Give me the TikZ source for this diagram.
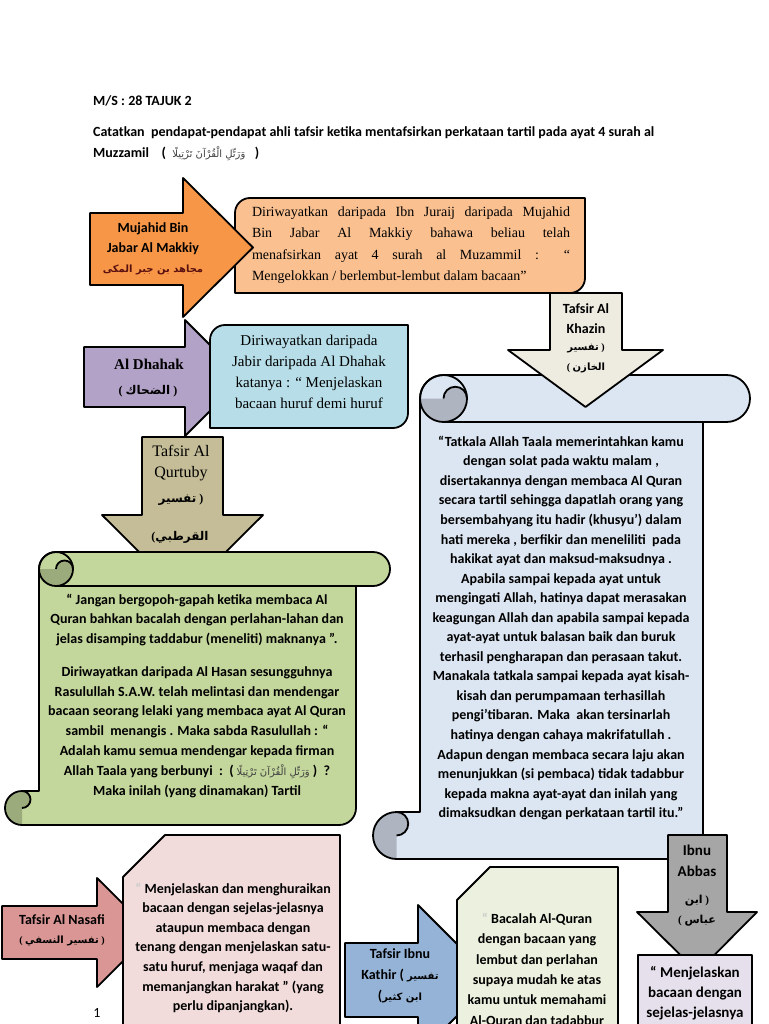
\documentclass[tikz,border=0pt]{standalone}
\usepackage{fontspec}
\setmainfont{Liberation Serif}
\newfontfamily\calfont{Carlito}
\newfontfamily\arabfont[Script=Arabic]{DejaVu Sans}
\TeXXeTstate=1
\newcommand{\ar}[1]{{\arabfont\beginR #1\endR}}
\definecolor{orArrow}{HTML}{F79646}
\definecolor{orBox}{HTML}{FAC090}
\definecolor{puArrow}{HTML}{B3A2C7}
\definecolor{ltBlue}{HTML}{B7DEE8}
\definecolor{khaki}{HTML}{C4BD97}
\definecolor{grScroll}{HTML}{C3D69B}
\definecolor{grDark}{HTML}{9CAB7C}
\definecolor{beigeA}{HTML}{EEECE1}
\definecolor{blScroll}{HTML}{DCE6F2}
\definecolor{blDark}{HTML}{AEB5C0}
\definecolor{pkArrow}{HTML}{D99694}
\definecolor{pkBox}{HTML}{F2DCDB}
\definecolor{kaArrow}{HTML}{95B3D7}
\definecolor{kaBox}{HTML}{EBF1DE}
\definecolor{gyArrow}{HTML}{A6A6A6}
\definecolor{lvBox}{HTML}{E6E0EC}
\definecolor{arRed}{HTML}{5A1010}
\tikzset{
  outl/.style={draw=black, line width=1.8pt, line join=round},
  cb/.style={font=\calfont\bfseries\fontsize{14}{19.7}\selectfont, align=center, inner sep=0pt},
  hdr/.style={font=\calfont\bfseries\fontsize{14}{16}\selectfont, inner sep=0pt, anchor=west},
  tm/.style={font=\fontsize{14}{21.5}\selectfont, align=center, inner sep=0pt},
  tmb/.style={font=\bfseries\fontsize{15}{20.7}\selectfont, align=center, inner sep=0pt},
  arb/.style={font=\bfseries\fontsize{10}{14}\selectfont, inner sep=0pt},
}
% horizontal scroll: l t r b ch fill dark
\newcommand{\hscroll}[7]{%
  \pgfmathsetmacro{\scL}{#1}\pgfmathsetmacro{\scT}{#2}%
  \pgfmathsetmacro{\scR}{#3}\pgfmathsetmacro{\scB}{#4}%
  \pgfmathsetmacro{\scC}{#5}\pgfmathsetmacro{\scH}{#5/2}\pgfmathsetmacro{\scQ}{#5/4}%
  \def\scPath{({\scL+\scC},{\scB-\scC}) -- ({\scL+\scC},{\scT+\scH})
    arc[start angle=180, end angle=270, radius=\scH] -- ({\scR-\scH},{\scT})
    arc[start angle=270, end angle=450, radius=\scH] -- ({\scR-\scC},{\scT+\scC})
    -- ({\scR-\scC},{\scB-\scH}) arc[start angle=0, end angle=90, radius=\scH]
    -- ({\scL+\scH},{\scB}) arc[start angle=90, end angle=270, radius=\scH] -- cycle}%
  \fill[#6] \scPath;
  \fill[#7] ({\scL+\scC},{\scT+\scH}) arc[start angle=180, end angle=0, radius=\scH]
     arc[start angle=0, end angle=-180, radius=\scQ] -- cycle;
  \fill[#7] ({\scL+\scH},{\scB-\scC}) arc[start angle=270, end angle=90, radius=\scH]
     -- ({\scL+\scH},{\scB-\scH}) arc[start angle=90, end angle=-90, radius=\scQ] -- cycle;
  \draw[outl] \scPath;
  \draw[outl] ({\scL+\scC+\scH},{\scT+\scH}) circle[radius=\scH];
  \draw[outl] ({\scL+\scC+\scC},{\scT+\scH}) arc[start angle=0, end angle=-180, radius=\scQ];
  \draw[outl] ({\scL+\scC+\scH},{\scT+\scC}) -- ({\scR-\scC},{\scT+\scC});
  \draw[outl] ({\scL+\scH},{\scB-\scH}) arc[start angle=90, end angle=-90, radius=\scQ];
}
\begin{document}
\begin{tikzpicture}[x=1pt,y=-1pt]
\useasboundingbox (0,0) rectangle (768,1024);
\clip (0,0) rectangle (768,1024);
\fill[white] (0,0) rectangle (768,1024);

% header
\node[hdr] (ms) at (93,101) {M/S : 28 TAJUK 2};
\node[hdr] (cat1) at (93,133) {Catatkan\ \ pendapat-pendapat ahli tafsir ketika mentafsirkan perkataan tartil pada ayat 4 surah al};
\node[hdr] (cat2) at (93,154) {Muzzamil\ \ \ \ (\ \ {\fontsize{10}{12}\selectfont\mdseries\color{black!75}\ar{وَرَتِّلِ الْقُرْآنَ تَرْتِيلًا}}\ \ \ )};

% Mujahid
\draw[outl, fill=orBox] (235,293) -- (235,213) arc[start angle=180,end angle=270,radius=15] -- (585,198) -- (585,278) arc[start angle=0,end angle=90,radius=15] -- cycle;
\node[tm, align=left] (mujtext) at (411,245) {\makebox[318pt][s]{Diriwayatkan daripada Ibn Juraij daripada Mujahid}\\
\makebox[318pt][s]{Bin Jabar Al Makkiy bahawa beliau telah}\\
\makebox[318pt][s]{menafsirkan ayat 4 surah al Muzammil : “}\\
Mengelokkan / berlembut-lembut dalam bacaan”};
\draw[outl, fill=orArrow] (90,213) -- (183,213) -- (183,178) -- (253,247.5) -- (183,317) -- (183,285) -- (90,285) -- cycle;
\node[cb, font=\calfont\bfseries\fontsize{14}{19.8}\selectfont] (mujlabel) at (153,249) {Mujahid Bin\\Jabar Al Makkiy\\{\color{arRed}\fontsize{10}{14}\selectfont\ar{مجاهد بن جبر المكى}}};

% Al Dhahak
\draw[outl, fill=puArrow] (84,347) -- (185,347) -- (185,320) -- (243,378) -- (185,436) -- (185,407) -- (84,407) -- cycle;
\draw[outl, fill=ltBlue] (210,428) -- (210,340) arc[start angle=180,end angle=270,radius=15] -- (408,325) -- (408,413) arc[start angle=0,end angle=90,radius=15] -- cycle;
\node[tm, font=\fontsize{15}{21}\selectfont] (dhtext) at (309,372) {Diriwayatkan daripada\\Jabir daripada Al Dhahak\\katanya : “ Menjelaskan\\bacaan huruf demi huruf};
\node[tmb] (dhlabel) at (149,364) {Al Dhahak};
\node[arb, font=\bfseries\fontsize{12}{14}\selectfont] (dharab) at (148,391) {(\ \ar{الضحاك}\ )};

% Qurtuby
\draw[outl, fill=khaki] (142,437) -- (223,437) -- (223,515) -- (263,515) -- (182.5,595) -- (102,515) -- (142,515) -- cycle;
\node[tm, font=\fontsize{16}{21}\selectfont] (qlabel) at (181,463) {Tafsir Al\\Qurtuby};
\node[arb, font=\bfseries\fontsize{12}{14}\selectfont] (qarab1) at (181,500) {\ar{تفسير}\ )};
\node[arb, font=\bfseries\fontsize{12}{14}\selectfont] (qarab2) at (180,537) {(\ar{القرطبي}};

% green scroll
\hscroll{5}{552}{390}{825}{34}{grScroll}{grDark}
\node[cb, font=\calfont\bfseries\fontsize{14}{19.8}\selectfont] (g1) at (197,620) {“ Jangan bergopoh-gapah ketika membaca Al\\Quran bahkan bacalah dengan perlahan-lahan dan\\jelas disamping taddabur (meneliti) maknanya ”.};
\node[cb, font=\calfont\bfseries\fontsize{14}{19.8}\selectfont] (g2) at (197,732) {Diriwayatkan daripada Al Hasan sesungguhnya\\Rasulullah S.A.W. telah melintasi dan mendengar\\bacaan seorang lelaki yang membaca ayat Al Quran\\sambil\ \ menangis . Maka sabda Rasulullah : “\\Adalah kamu semua mendengar kepada firman\\Allah Taala yang berbunyi\ \ :\ \ ( {\fontsize{10}{12}\selectfont\mdseries\color{black!75}\ar{وَرَتِّلِ الْقُرْآنَ تَرْتِيلًا}} )\ \ ?\\Maka inilah (yang dinamakan) Tartil};

% blue scroll
\hscroll{373}{375}{750}{859}{47}{blScroll}{blDark}
\node[cb, font=\calfont\bfseries\fontsize{14}{19.55}\selectfont] (btext) at (561,628) {“Tatkala Allah Taala memerintahkan kamu\\dengan solat pada waktu malam ,\\disertakannya dengan membaca Al Quran\\secara tartil sehingga dapatlah orang yang\\bersembahyang itu hadir (khusyu’) dalam\\hati mereka , berfikir dan meneliliti\ \ pada\\hakikat ayat dan maksud-maksudnya .\\Apabila sampai kepada ayat untuk\\mengingati Allah, hatinya dapat merasakan\\keagungan Allah dan apabila sampai kepada\\ayat-ayat untuk balasan baik dan buruk\\terhasil pengharapan dan perasaan takut.\\Manakala tatkala sampai kepada ayat kisah-\\kisah dan perumpamaan terhasillah\\pengi’tibaran. Maka\ \ akan tersinarlah\\hatinya dengan cahaya makrifatullah .\\Adapun dengan membaca secara laju akan\\menunjukkan (si pembaca) tidak tadabbur\\kepada makna ayat-ayat dan inilah yang\\dimaksudkan dengan perkataan tartil itu.”};

% Khazin
\draw[outl, fill=beigeA] (550,293) -- (622,293) -- (622,350) -- (663,350) -- (585.5,407) -- (508,350) -- (550,350) -- cycle;
\node[cb, font=\calfont\bfseries\fontsize{14}{20}\selectfont] (klabel) at (586,319) {Tafsir Al\\Khazin};
\node[arb] (karab1) at (586,348) {\ar{تفسير}\ )};
\node[arb] (karab2) at (586,368) {(\ \ar{الخازن}};

% Ibnu Abbas
\draw[outl, fill=gyArrow] (668,835) -- (727,835) -- (727,912) -- (757,912) -- (697.5,972) -- (637,912) -- (668,912) -- cycle;
\node[cb, font=\calfont\bfseries\fontsize{15}{20.5}\selectfont] (alabel) at (697,861) {Ibnu\\Abbas};
\node[arb, font=\bfseries\fontsize{11}{14}\selectfont] (aarab1) at (697,901) {\ar{ابن}\ )};
\node[arb, font=\bfseries\fontsize{11}{14}\selectfont] (aarab2) at (697,921) {(\ \ar{عباس}};
\draw[outl, fill=lvBox] (638,1040) -- (638,955) -- (752,955) -- (752,1040);
\node[cb, font=\calfont\bfseries\fontsize{15}{20}\selectfont] (ltext) at (695,993) {“ Menjelaskan\\bacaan dengan\\sejelas-jelasnya};

% Nasafi
\draw[outl, fill=pkArrow] (2,906) -- (97,906) -- (97,878) -- (152,932.5) -- (97,987) -- (97,959) -- (2,959) -- cycle;
\draw[outl, fill=pkBox] (165,835) -- (340,835) -- (340,1040) -- (123,1040) -- (123,877) -- cycle;
\node[cb, font=\calfont\bfseries\fontsize{14}{20}\selectfont] (nlabel) at (62,920) {Tafsir Al Nasafi};
\node[arb, font=\bfseries\fontsize{10}{12}\selectfont] (narab) at (62,941) {(\ \ar{تفسير النسفي}\ )};
\node[cb, font=\calfont\bfseries\fontsize{14}{19.6}\selectfont] (ntext) at (233,948) {{\color{black!20}“} Menjelaskan dan menghuraikan\\bacaan dengan sejelas-jelasnya\\ataupun membaca dengan\\tenang dengan menjelaskan satu-\\satu huruf, menjaga waqaf dan\\memanjangkan harakat ” (yang\\perlu dipanjangkan).};
\node[font=\calfont\fontsize{14}{14}\selectfont, inner sep=0pt] (pnum) at (97,1013) {1};

% Ibnu Kathir
\draw[outl, fill=kaArrow] (345,943) -- (418,943) -- (418,905) -- (493,980) -- (418,1055) -- (418,1017) -- (345,1017) -- cycle;
\draw[outl, fill=kaBox] (490,867) -- (618,867) -- (618,1040) -- (457,1040) -- (457,900) -- cycle;
\node[cb, font=\calfont\bfseries\fontsize{14}{21}\selectfont] (kalabel) at (400,976) {Tafsir Ibnu\\Kathir ( {\fontsize{10}{12}\selectfont\ar{تفسير}}\\({\fontsize{10}{12}\selectfont\ar{ابن كثير}}};
\node[cb, font=\calfont\bfseries\fontsize{14}{20.4}\selectfont] (katext) at (537,970) {{\color{black!20}“} Bacalah Al-Quran\\dengan bacaan yang\\lembut dan perlahan\\supaya mudah ke atas\\kamu untuk memahami\\Al-Quran dan tadabbur};
\end{tikzpicture}
\end{document}
